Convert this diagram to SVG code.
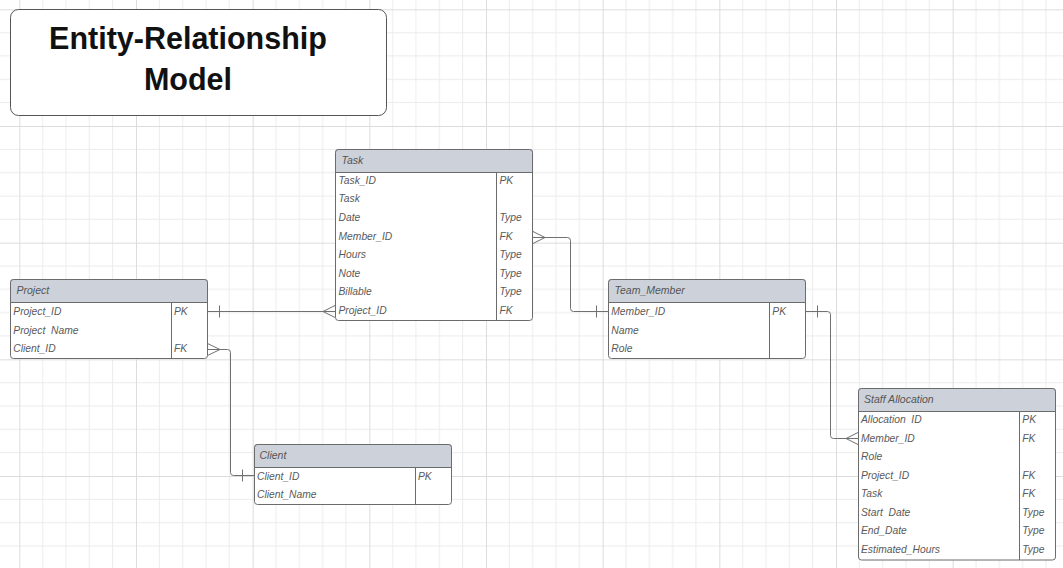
<svg xmlns="http://www.w3.org/2000/svg" width="1063" height="568" viewBox="0 0 1063 568">
<style>
.tbl{fill:#fff;stroke:#6b6b6b;stroke-width:1}
.hdr{fill:#cdd2da;stroke:#6b6b6b;stroke-width:1}
.ln{stroke:#6b6b6b;stroke-width:1;fill:none}
.h{font-family:"Liberation Sans",Arial,sans-serif;font-style:italic;font-size:10.5px;fill:#555}
.t{font-family:"Liberation Sans",Arial,sans-serif;font-style:italic;font-size:10.3px;fill:#5a5a5a;white-space:pre}
.title{font-family:"Liberation Sans",Arial,sans-serif;font-weight:bold;font-size:30.5px;fill:#111;text-anchor:middle}
.con{stroke:#707070;stroke-width:1;fill:none}
</style>
<defs>
<pattern id="grid" patternUnits="userSpaceOnUse" x="19.33" y="9.33" width="116.667" height="116.667">
<path d="M23.33 0V116.667M46.67 0V116.667M70 0V116.667M93.33 0V116.667M0 23.33H116.667M0 46.67H116.667M0 70H116.667M0 93.33H116.667" stroke="#ececec" stroke-width="1"/>
<path d="M0.5 0V116.667M0 0.5H116.667" stroke="#dcdcdc" stroke-width="1"/>
</pattern>
</defs>
<rect width="1063" height="568" fill="#fff"/>
<rect width="1063" height="568" fill="url(#grid)"/>

<g id="title">
<rect x="10.5" y="9.5" width="376" height="106" rx="8" fill="#fff" stroke="#555" stroke-width="1"/>
<text class="title" x="188" y="48.5">Entity-Relationship</text>
<text class="title" x="188" y="89.5">Model</text>
</g>

<g id="connectors">
<path class="con" d="M207.5 311.5H335"/>
<path class="con" d="M219.5 305.5V317.5"/>
<path class="con" d="M335 305.5L323 311.5L335 317.5"/>

<path class="con" d="M533 237.5H567.5Q570.5 237.5 570.5 240.5V308.5Q570.5 311.5 573.5 311.5H608.5"/>
<path class="con" d="M533 231.5L545 237.5L533 243.5"/>
<path class="con" d="M596.5 305.5V317.5"/>

<path class="con" d="M805.5 311.5H827.5Q830.5 311.5 830.5 314.5V435.5Q830.5 438.5 833.5 438.5H858"/>
<path class="con" d="M817.5 305.5V317.5"/>
<path class="con" d="M858 432.5L846 438.5L858 444.5"/>

<path class="con" d="M207.5 349.5H227.5Q230.5 349.5 230.5 352.5V472.5Q230.5 475.5 233.5 475.5H254"/>
<path class="con" d="M207.5 343.5L220 349.5L207.5 355.5"/>
<path class="con" d="M242.5 469.5V481.5"/>
</g>

<g id="task">
<rect class="tbl" x="335.5" y="149.5" width="197" height="171" rx="3"/>
<path class="hdr" d="M335.5 172.5V152.5Q335.5 149.5 338.5 149.5H529.5Q532.5 149.5 532.5 152.5V172.5Z"/>
<path class="ln" d="M496.5 172.5V320.5"/>
<text class="h" x="341.5" y="163.5">Task</text>
<g transform="translate(0,-1.2)">
<text class="t" x="338.5" y="185">Task_ID</text>
<text class="t" x="338.5" y="203.6">Task</text>
<text class="t" x="338.5" y="222.2">Date</text>
<text class="t" x="338.5" y="240.8">Member_ID</text>
<text class="t" x="338.5" y="259.3">Hours</text>
<text class="t" x="338.5" y="277.9">Note</text>
<text class="t" x="338.5" y="296.4">Billable</text>
<text class="t" x="338.5" y="315">Project_ID</text>
<text class="t" x="499.5" y="185">PK</text>
<text class="t" x="499.5" y="222.2">Type</text>
<text class="t" x="499.5" y="240.8">FK</text>
<text class="t" x="499.5" y="259.3">Type</text>
<text class="t" x="499.5" y="277.9">Type</text>
<text class="t" x="499.5" y="296.4">Type</text>
<text class="t" x="499.5" y="315">FK</text>
</g>
</g>

<g id="project">
<rect class="tbl" x="10.5" y="279.5" width="197" height="79" rx="3"/>
<path class="hdr" d="M10.5 302.5V282.5Q10.5 279.5 13.5 279.5H204.5Q207.5 279.5 207.5 282.5V302.5Z"/>
<path class="ln" d="M171.5 302.5V358.5"/>
<text class="h" x="16.5" y="293.8">Project</text>
<text class="t" x="13.3" y="315.3">Project_ID</text>
<text class="t" x="13.3" y="333.8">Project  Name</text>
<text class="t" x="13.3" y="352.3">Client_ID</text>
<text class="t" x="174" y="315.3">PK</text>
<text class="t" x="174" y="352.3">FK</text>
</g>

<g id="team_member">
<rect class="tbl" x="608.5" y="279.5" width="197" height="79" rx="3"/>
<path class="hdr" d="M608.5 302.5V282.5Q608.5 279.5 611.5 279.5H802.5Q805.5 279.5 805.5 282.5V302.5Z"/>
<path class="ln" d="M769.5 302.5V358.5"/>
<text class="h" x="614.5" y="293.8">Team_Member</text>
<text class="t" x="611.3" y="314.8">Member_ID</text>
<text class="t" x="611.3" y="333.5">Name</text>
<text class="t" x="611.3" y="352.2">Role</text>
<text class="t" x="772.3" y="314.8">PK</text>
</g>

<g id="client">
<rect class="tbl" x="254.5" y="444.5" width="197" height="60" rx="3"/>
<path class="hdr" d="M254.5 467.5V447.5Q254.5 444.5 257.5 444.5H448.5Q451.5 444.5 451.5 447.5V467.5Z"/>
<path class="ln" d="M415.5 467.5V504.5"/>
<text class="h" x="259.5" y="458.5">Client</text>
<text class="t" x="257" y="479.5">Client_ID</text>
<text class="t" x="257" y="497.9">Client_Name</text>
<text class="t" x="418" y="479.5">PK</text>
</g>

<g id="staff_allocation">
<rect class="tbl" x="858.5" y="388.5" width="197" height="171.5" rx="3"/>
<path class="hdr" d="M858.5 411.5V391.5Q858.5 388.5 861.5 388.5H1052.5Q1055.5 388.5 1055.5 391.5V411.5Z"/>
<path class="ln" d="M1019.5 411.5V560"/>
<text class="h" x="864" y="402.5">Staff Allocation</text>
<g transform="translate(0,-1.3)">
<text class="t" x="861" y="424.4">Allocation  ID</text>
<text class="t" x="861" y="443">Member_ID</text>
<text class="t" x="861" y="461.5">Role</text>
<text class="t" x="861" y="480">Project_ID</text>
<text class="t" x="861" y="498.6">Task</text>
<text class="t" x="861" y="517.1">Start  Date</text>
<text class="t" x="861" y="535.7">End_Date</text>
<text class="t" x="861" y="554.2">Estimated_Hours</text>
<text class="t" x="1022.3" y="424.4">PK</text>
<text class="t" x="1022.3" y="443">FK</text>
<text class="t" x="1022.3" y="480">FK</text>
<text class="t" x="1022.3" y="498.6">FK</text>
<text class="t" x="1022.3" y="517.1">Type</text>
<text class="t" x="1022.3" y="535.7">Type</text>
<text class="t" x="1022.3" y="554.2">Type</text>
</g>
</g>
</svg>
